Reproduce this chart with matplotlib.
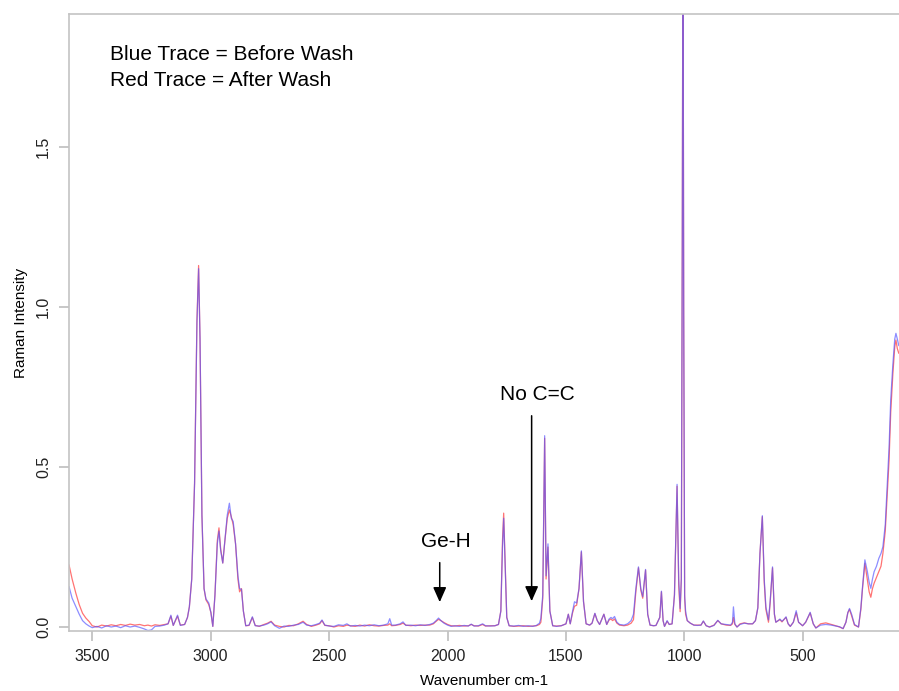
import numpy as np
from matplotlib import pyplot as plt

plt.rcParams['font.family'] = ['Liberation Sans', 'DejaVu Sans']

# wavenumber (cm-1), intensity before wash (blue), after wash (red)
wn = [3598, 3585, 3569, 3555, 3541, 3527, 3513, 3500, 3480, 3460, 3440, 3420, 3400, 3380,
      3360, 3340, 3320, 3300, 3280, 3265, 3250, 3235, 3215, 3195, 3180, 3168, 3158, 3140,
      3128, 3110, 3098, 3090, 3080, 3068, 3058, 3051, 3045, 3037, 3028, 3020, 3008, 2999,
      2991, 2982, 2972, 2965, 2958, 2949, 2940, 2930, 2921, 2913, 2905, 2895, 2885, 2878,
      2870, 2862, 2852, 2838, 2824, 2812, 2795, 2775, 2760, 2745, 2730, 2710, 2690, 2670,
      2650, 2630, 2610, 2595, 2575, 2555, 2540, 2530, 2518, 2500, 2480, 2460, 2440, 2425,
      2410, 2390, 2370, 2350, 2330, 2310, 2290, 2270, 2252, 2244, 2236, 2220, 2200, 2188,
      2176, 2155, 2135, 2115, 2095, 2075, 2060, 2048, 2038, 2028, 2015, 2000, 1985, 1970,
      1950, 1930, 1912, 1900, 1888, 1870, 1852, 1840, 1820, 1800, 1785, 1775, 1768, 1763,
      1757, 1750, 1740, 1720, 1700, 1680, 1660, 1640, 1625, 1612, 1606, 1598, 1590, 1584,
      1576, 1568, 1556, 1540, 1520, 1500, 1490, 1482, 1472, 1464, 1455, 1445, 1435, 1426,
      1415, 1400, 1390, 1378, 1368, 1358, 1340, 1328, 1318, 1310, 1303, 1295, 1285, 1274,
      1255, 1240, 1225, 1215, 1205, 1194, 1184, 1176, 1164, 1155, 1145, 1130, 1120, 1104,
      1097, 1090, 1084, 1073, 1064, 1052, 1042, 1031, 1024, 1018, 1013, 1009, 1006, 1003,
      999, 995, 988, 975, 960, 945, 930, 920, 908, 894, 875, 859, 845, 824,
      805, 797, 793, 787, 778, 765, 747, 730, 712, 700, 690, 681, 671, 663,
      656, 645, 638, 628, 620, 614, 604, 597, 588, 578, 571, 562, 553, 540,
      528, 518, 501, 488, 469, 456, 445, 425, 403, 380, 361, 345, 330, 318,
      310, 303, 294, 282, 265, 255, 248, 238, 228, 220, 213, 206, 199, 189,
      179, 170, 162, 152, 144, 136, 129, 120, 112, 107, 101, 95]

before = [0.126, 0.09, 0.063, 0.04, 0.02, 0.01, 0.003, -0.002, 0.002, -0.003, 0.004, 0.0, 0.003, -0.002,
          0.004, 0.0, 0.003, -0.001, -0.006, -0.011, -0.009, 0.002, 0.003, 0.006, 0.01, 0.037, 0.005, 0.037,
          0.005, 0.008, 0.03, 0.063, 0.15, 0.45, 0.95, 1.12, 0.9, 0.35, 0.12, 0.088, 0.075, 0.045,
          0.002, 0.1, 0.26, 0.30, 0.24, 0.2, 0.27, 0.35, 0.387, 0.34, 0.33, 0.26, 0.16, 0.12,
          0.118, 0.05, 0.004, 0.006, 0.032, 0.004, 0.003, 0.006, 0.01, 0.016, 0.004, -0.004, 0.003, 0.002,
          0.006, 0.008, 0.015, 0.006, 0.004, 0.008, 0.012, 0.022, 0.006, 0.003, 0.002, 0.007, 0.005, 0.01,
          0.003, 0.005, 0.003, 0.006, 0.004, 0.007, 0.004, 0.006, 0.01, 0.026, 0.006, 0.006, 0.01, 0.016,
          0.005, 0.006, 0.004, 0.007, 0.005, 0.008, 0.012, 0.02, 0.028, 0.02, 0.012, 0.006, 0.002, 0.004,
          0.002, 0.005, 0.003, 0.009, 0.003, 0.004, 0.01, 0.004, 0.003, 0.004, 0.008, 0.05, 0.25, 0.34,
          0.2, 0.03, 0.004, 0.003, 0.005, 0.002, 0.004, 0.002, 0.005, 0.012, 0.027, 0.1, 0.598, 0.16,
          0.26, 0.05, 0.004, 0.002, 0.004, 0.01, 0.04, 0.01, 0.05, 0.079, 0.075, 0.12, 0.238, 0.08,
          0.01, 0.006, 0.012, 0.043, 0.02, 0.008, 0.04, 0.008, 0.025, 0.03, 0.026, 0.033, 0.015, 0.008,
          0.006, 0.01, 0.02, 0.04, 0.12, 0.188, 0.12, 0.095, 0.18, 0.04, 0.006, 0.004, 0.005, 0.03,
          0.112, 0.02, 0.002, 0.02, 0.008, 0.01, 0.1, 0.446, 0.15, 0.058, 0.15, 1.2, 2.3, 1.0,
          0.1, 0.05, 0.02, 0.012, 0.006, 0.005, 0.006, 0.019, 0.004, 0.0, 0.005, 0.021, 0.01, 0.008,
          0.006, 0.015, 0.063, 0.01, 0.0, 0.008, 0.012, 0.01, 0.01, 0.02, 0.06, 0.23, 0.348, 0.15,
          0.063, 0.022, 0.08, 0.188, 0.04, 0.015, 0.02, 0.025, 0.018, 0.025, 0.032, 0.01, 0.002, 0.015,
          0.051, 0.015, 0.004, 0.015, 0.046, 0.01, -0.003, 0.006, 0.008, 0.006, 0.003, 0.001, -0.005, 0.015,
          0.045, 0.058, 0.04, 0.008, 0.0, 0.06, 0.126, 0.21, 0.175, 0.14, 0.121, 0.15, 0.173, 0.19,
          0.215, 0.23, 0.251, 0.32, 0.44, 0.56, 0.71, 0.82, 0.9, 0.918, 0.9, 0.88]

after = [0.194, 0.15, 0.105, 0.07, 0.043, 0.028, 0.017, 0.004, 0.0, 0.006, 0.003, 0.007, 0.004, 0.008,
         0.005, 0.009, 0.006, 0.008, 0.004, 0.006, 0.003, 0.007, 0.005, 0.008, 0.01, 0.034, 0.005, 0.034,
         0.006, 0.008, 0.03, 0.063, 0.15, 0.45, 0.96, 1.13, 0.9, 0.35, 0.12, 0.085, 0.07, 0.045,
         0.002, 0.1, 0.27, 0.31, 0.245, 0.2, 0.27, 0.34, 0.366, 0.345, 0.32, 0.26, 0.15, 0.11,
         0.12, 0.05, 0.004, 0.005, 0.03, 0.005, 0.002, 0.008, 0.012, 0.018, 0.006, 0.002, 0.0, 0.005,
         0.004, 0.01, 0.018, 0.008, 0.002, 0.006, 0.01, 0.02, 0.005, 0.004, 0.0, 0.004, 0.002, 0.006,
         0.004, 0.002, 0.006, 0.003, 0.007, 0.004, 0.003, 0.005, 0.006, 0.01, 0.004, 0.005, 0.008, 0.012,
         0.006, 0.004, 0.006, 0.005, 0.006, 0.006, 0.01, 0.018, 0.024, 0.02, 0.014, 0.008, 0.004, 0.003,
         0.005, 0.003, 0.004, 0.008, 0.004, 0.003, 0.008, 0.003, 0.004, 0.004, 0.008, 0.05, 0.27, 0.356,
         0.21, 0.03, 0.004, 0.002, 0.003, 0.004, 0.002, 0.003, 0.004, 0.008, 0.015, 0.09, 0.59, 0.15,
         0.25, 0.05, 0.004, 0.003, 0.004, 0.01, 0.04, 0.01, 0.045, 0.065, 0.068, 0.12, 0.235, 0.08,
         0.01, 0.006, 0.012, 0.042, 0.02, 0.008, 0.04, 0.008, 0.022, 0.025, 0.02, 0.025, 0.012, 0.006,
         0.004, 0.006, 0.012, 0.023, 0.11, 0.185, 0.115, 0.09, 0.178, 0.04, 0.006, 0.004, 0.005, 0.03,
         0.11, 0.02, 0.002, 0.018, 0.008, 0.01, 0.1, 0.44, 0.13, 0.048, 0.15, 1.2, 2.3, 1.0,
         0.09, 0.04, 0.02, 0.012, 0.006, 0.006, 0.006, 0.018, 0.004, 0.0, 0.006, 0.02, 0.01, 0.006,
         0.005, 0.01, 0.03, 0.008, 0.0, 0.01, 0.013, 0.01, 0.01, 0.02, 0.06, 0.23, 0.345, 0.14,
         0.055, 0.015, 0.075, 0.185, 0.04, 0.015, 0.02, 0.023, 0.016, 0.025, 0.03, 0.01, 0.002, 0.015,
         0.045, 0.015, 0.004, 0.015, 0.044, 0.01, -0.003, 0.01, 0.013, 0.008, 0.004, 0.0, -0.005, 0.015,
         0.045, 0.055, 0.035, 0.006, 0.0, 0.055, 0.12, 0.199, 0.15, 0.11, 0.093, 0.12, 0.137, 0.155,
         0.173, 0.19, 0.23, 0.3, 0.41, 0.52, 0.67, 0.79, 0.875, 0.897, 0.87, 0.856]

fig = plt.figure(figsize=(8.99, 6.91), dpi=100)
ax = fig.add_axes([0.0768, 0.0868, 0.9232, 0.8929])

ax.plot(wn, after, color='#ff5050', lw=0.9, alpha=0.8)
ax.plot(wn, before, color='#5050ff', lw=0.9, alpha=0.65)

ax.set_xlim(3598, 94)
ax.set_ylim(-0.0125, 1.916)
ax.set_xticks([3500, 3000, 2500, 2000, 1500, 1000, 500])
ax.set_yticks([0.0, 0.5, 1.0, 1.5])
ax.set_yticklabels(['0.0', '0.5', '1.0', '1.5'], rotation=90, va='center')

for s in ['left', 'bottom', 'top']:
    ax.spines[s].set_color('#c4c4c4')
    ax.spines[s].set_linewidth(1.2)
ax.spines['right'].set_visible(False)
ax.tick_params(axis='both', direction='out', length=7, width=1.1, color='#b8b8b8',
               labelsize=11.5, labelcolor='#222222', pad=6)

ax.set_xlabel('Wavenumber cm-1', fontsize=11, labelpad=7)
ax.set_ylabel('Raman Intensity', fontsize=11, labelpad=6)

ax.text(0.049, 0.934, 'Blue Trace = Before Wash', transform=ax.transAxes,
        fontsize=15, va='center', ha='left')
ax.text(0.049, 0.893, 'Red Trace = After Wash', transform=ax.transAxes,
        fontsize=15, va='center', ha='left')

arrow = dict(arrowstyle='-|>,head_width=0.4,head_length=0.9', color='black', lw=1.1)
ax.annotate('', xy=(2033, 0.069), xytext=(2033, 0.21), arrowprops=arrow)
ax.text(2008, 0.266, 'Ge-H', fontsize=15, ha='center', va='center')
ax.annotate('', xy=(1645, 0.072), xytext=(1645, 0.669), arrowprops=arrow)
ax.text(1620, 0.728, 'No C=C', fontsize=15, ha='center', va='center')

plt.savefig('out.png', dpi=100)
